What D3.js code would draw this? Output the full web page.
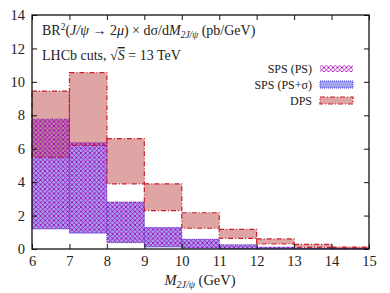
<!DOCTYPE html>
<head>
    <meta charset="utf-8">
    <script src="https://d3js.org/d3.v7.min.js"></script>
    <style>
        body { margin: 0; background: #fff; }
        text { font-family: "Liberation Serif", "DejaVu Serif", serif; fill: #222; }
    </style>
</head>

<body>
    <svg width="390" height="293"></svg>

    <script>
        // bin lower edges (GeV), each bin 1 GeV wide
        const binEdges = [6, 7, 8, 9, 10, 11, 12, 13, 14]
        // DPS band
        const dpsLow = [5.5, 6.2, 3.9, 2.3, 1.24, 0.64, 0.3, 0.1, 0.05]
        const dpsHigh = [9.45, 10.55, 6.6, 3.9, 2.17, 1.18, 0.6, 0.28, 0.12]
        // SPS (PS) band
        const psLow = [1.2, 0.95, 0.38, 0.12, 0.05, 0.02, 0.01, 0.01, 0.0]
        const psHigh = [7.8, 6.38, 2.83, 1.3, 0.6, 0.26, 0.12, 0.05, 0.02]
        // SPS (PS+sigma) band
        const sigLow = [1.2, 0.95, 0.38, 0.12, 0.05, 0.02, 0.01, 0.01, 0.0]
        const sigHigh = [7.75, 6.35, 2.8, 1.28, 0.58, 0.25, 0.11, 0.05, 0.02]

        const xTicks = [6, 7, 8, 9, 10, 11, 12, 13, 14, 15]
        const yTicks = [0, 2, 4, 6, 8, 10, 12, 14]

        const margin = { top: 15, right: 21, bottom: 44, left: 32 }
        const W = 390, H = 293
        const svg = d3.select("svg")

        const x = d3.scaleLinear().domain([6, 15]).range([margin.left, W - margin.right])
        const y = d3.scaleLinear().domain([0, 14]).range([H - margin.bottom, margin.top])

        // crosshatch pattern
        const defs = svg.append("defs")
        const pat = defs.append("pattern")
            .attr("id", "hatch")
            .attr("patternUnits", "userSpaceOnUse")
            .attr("width", 4.5).attr("height", 4.5)
        pat.append("path").attr("d", "M0,0 L4.5,4.5 M4.5,0 L0,4.5 M-1,3.5 L1,5.5 M3.5,-1 L5.5,1 M-1,1 L1,-1 M3.5,5.5 L5.5,3.5")
            .attr("stroke", "#a800b8").attr("stroke-width", 0.85)

        const data = binEdges.map((b, i) => ({
            b: b, dl: dpsLow[i], dh: dpsHigh[i], pl: psLow[i], ph: psHigh[i], sl: sigLow[i], sh: sigHigh[i]
        }))

        const plot = svg.append("g")

        // SPS (PS+sigma) fill
        plot.selectAll("rect.sig")
            .data(data)
            .enter()
            .append("rect")
            .attr("x", d => x(d.b))
            .attr("width", d => x(d.b + 1) - x(d.b))
            .attr("y", d => y(d.sh))
            .attr("height", d => y(d.sl) - y(d.sh))
            .attr("fill", "#a4a4ee")
            .attr("stroke", "#3a3ad8")
            .attr("stroke-width", 1)
            .attr("stroke-dasharray", "1,1")

        // DPS band
        plot.selectAll("rect.dps")
            .data(data)
            .enter()
            .append("rect")
            .attr("x", d => x(d.b))
            .attr("width", d => x(d.b + 1) - x(d.b))
            .attr("y", d => y(d.dh))
            .attr("height", d => y(d.dl) - y(d.dh))
            .attr("fill", "#c86464")
            .attr("fill-opacity", 0.58)
            .attr("stroke", "#c81e2a")
            .attr("stroke-width", 1.2)
            .attr("stroke-dasharray", "5,2,1,2")

        // SPS (PS) hatch
        plot.selectAll("rect.ps")
            .data(data)
            .enter()
            .append("rect")
            .attr("x", d => x(d.b))
            .attr("width", d => x(d.b + 1) - x(d.b))
            .attr("y", d => y(d.ph))
            .attr("height", d => y(d.pl) - y(d.ph))
            .attr("fill", "url(#hatch)")

        // frame and ticks
        svg.append("rect")
            .attr("x", margin.left).attr("y", margin.top)
            .attr("width", W - margin.left - margin.right)
            .attr("height", H - margin.top - margin.bottom)
            .attr("fill", "none").attr("stroke", "#111").attr("stroke-width", 1.3)

        const xb = svg.append("g").attr("transform", `translate(0,${H - margin.bottom})`)
            .call(d3.axisBottom(x).tickValues(xTicks).tickSize(-5).tickPadding(7).tickFormat(d3.format("d")))
        const xt = svg.append("g").attr("transform", `translate(0,${margin.top})`)
            .call(d3.axisTop(x).tickValues(xTicks).tickSize(-5).tickFormat(""))
        const yl = svg.append("g").attr("transform", `translate(${margin.left},0)`)
            .call(d3.axisLeft(y).tickValues(yTicks).tickSize(-5).tickPadding(7).tickFormat(d3.format("d")))
        const yr = svg.append("g").attr("transform", `translate(${W - margin.right},0)`)
            .call(d3.axisRight(y).tickValues(yTicks).tickSize(-5).tickFormat(""))
        ;[xb, xt, yl, yr].forEach(g => {
            g.select(".domain").remove()
            g.selectAll("line").attr("stroke", "#111")
            g.selectAll("text").attr("font-size", 14.5).attr("font-family", "Liberation Serif").attr("fill", "#222")
        })

        // annotation
        const t1 = svg.append("text").attr("x", 42).attr("y", 35).attr("font-size", 14)
        t1.append("tspan").text("BR")
        t1.append("tspan").text("2").attr("font-size", 9.5).attr("dy", -5)
        t1.append("tspan").attr("dy", 5).text("(")
        t1.append("tspan").attr("font-style", "italic").text("J/ψ")
        t1.append("tspan").text(" → 2")
        t1.append("tspan").attr("font-style", "italic").text("μ")
        t1.append("tspan").text(") × dσ/d")
        t1.append("tspan").attr("font-style", "italic").text("M")
        t1.append("tspan").attr("font-size", 9.5).attr("dy", 3).attr("font-style", "italic").text("2J/ψ")
        t1.append("tspan").attr("dy", -3).text(" (pb/GeV)")

        const t2 = svg.append("text").attr("x", 42).attr("y", 60).attr("font-size", 14)
        t2.append("tspan").text("LHCb cuts, √")
        t2.append("tspan").attr("font-style", "italic").attr("text-decoration", "overline").text("S")
        t2.append("tspan").text(" = 13 TeV")

        // legend
        const legendItems = ["SPS (PS)", "SPS (PS+σ)", "DPS"]
        const lg = svg.append("g")
        legendItems.forEach((name, i) => {
            const yy = 68.5 + i * 16
            lg.append("text").attr("x", 312).attr("y", yy + 4).attr("text-anchor", "end")
                .attr("font-size", 12).text(name)
            const r = lg.append("rect").attr("x", 320).attr("y", yy - 3.5).attr("width", 33).attr("height", 7)
            if (i === 0) r.attr("fill", "url(#hatch)")
            if (i === 1) r.attr("fill", "#a4a4ee").attr("stroke", "#3a3ad8").attr("stroke-dasharray", "1,1")
            if (i === 2) r.attr("fill", "#c86464").attr("fill-opacity", 0.58).attr("stroke", "#c81e2a")
                .attr("stroke-width", 1.2).attr("stroke-dasharray", "5,2,1,2")
        })

        // x axis title
        const xl = svg.append("text").attr("x", 200).attr("y", 285).attr("text-anchor", "middle").attr("font-size", 14.5)
        xl.append("tspan").attr("font-style", "italic").text("M")
        xl.append("tspan").attr("font-size", 10).attr("dy", 3).attr("font-style", "italic").text("2J/ψ")
        xl.append("tspan").attr("dy", -3).text(" (GeV)")
    </script>
</body>
